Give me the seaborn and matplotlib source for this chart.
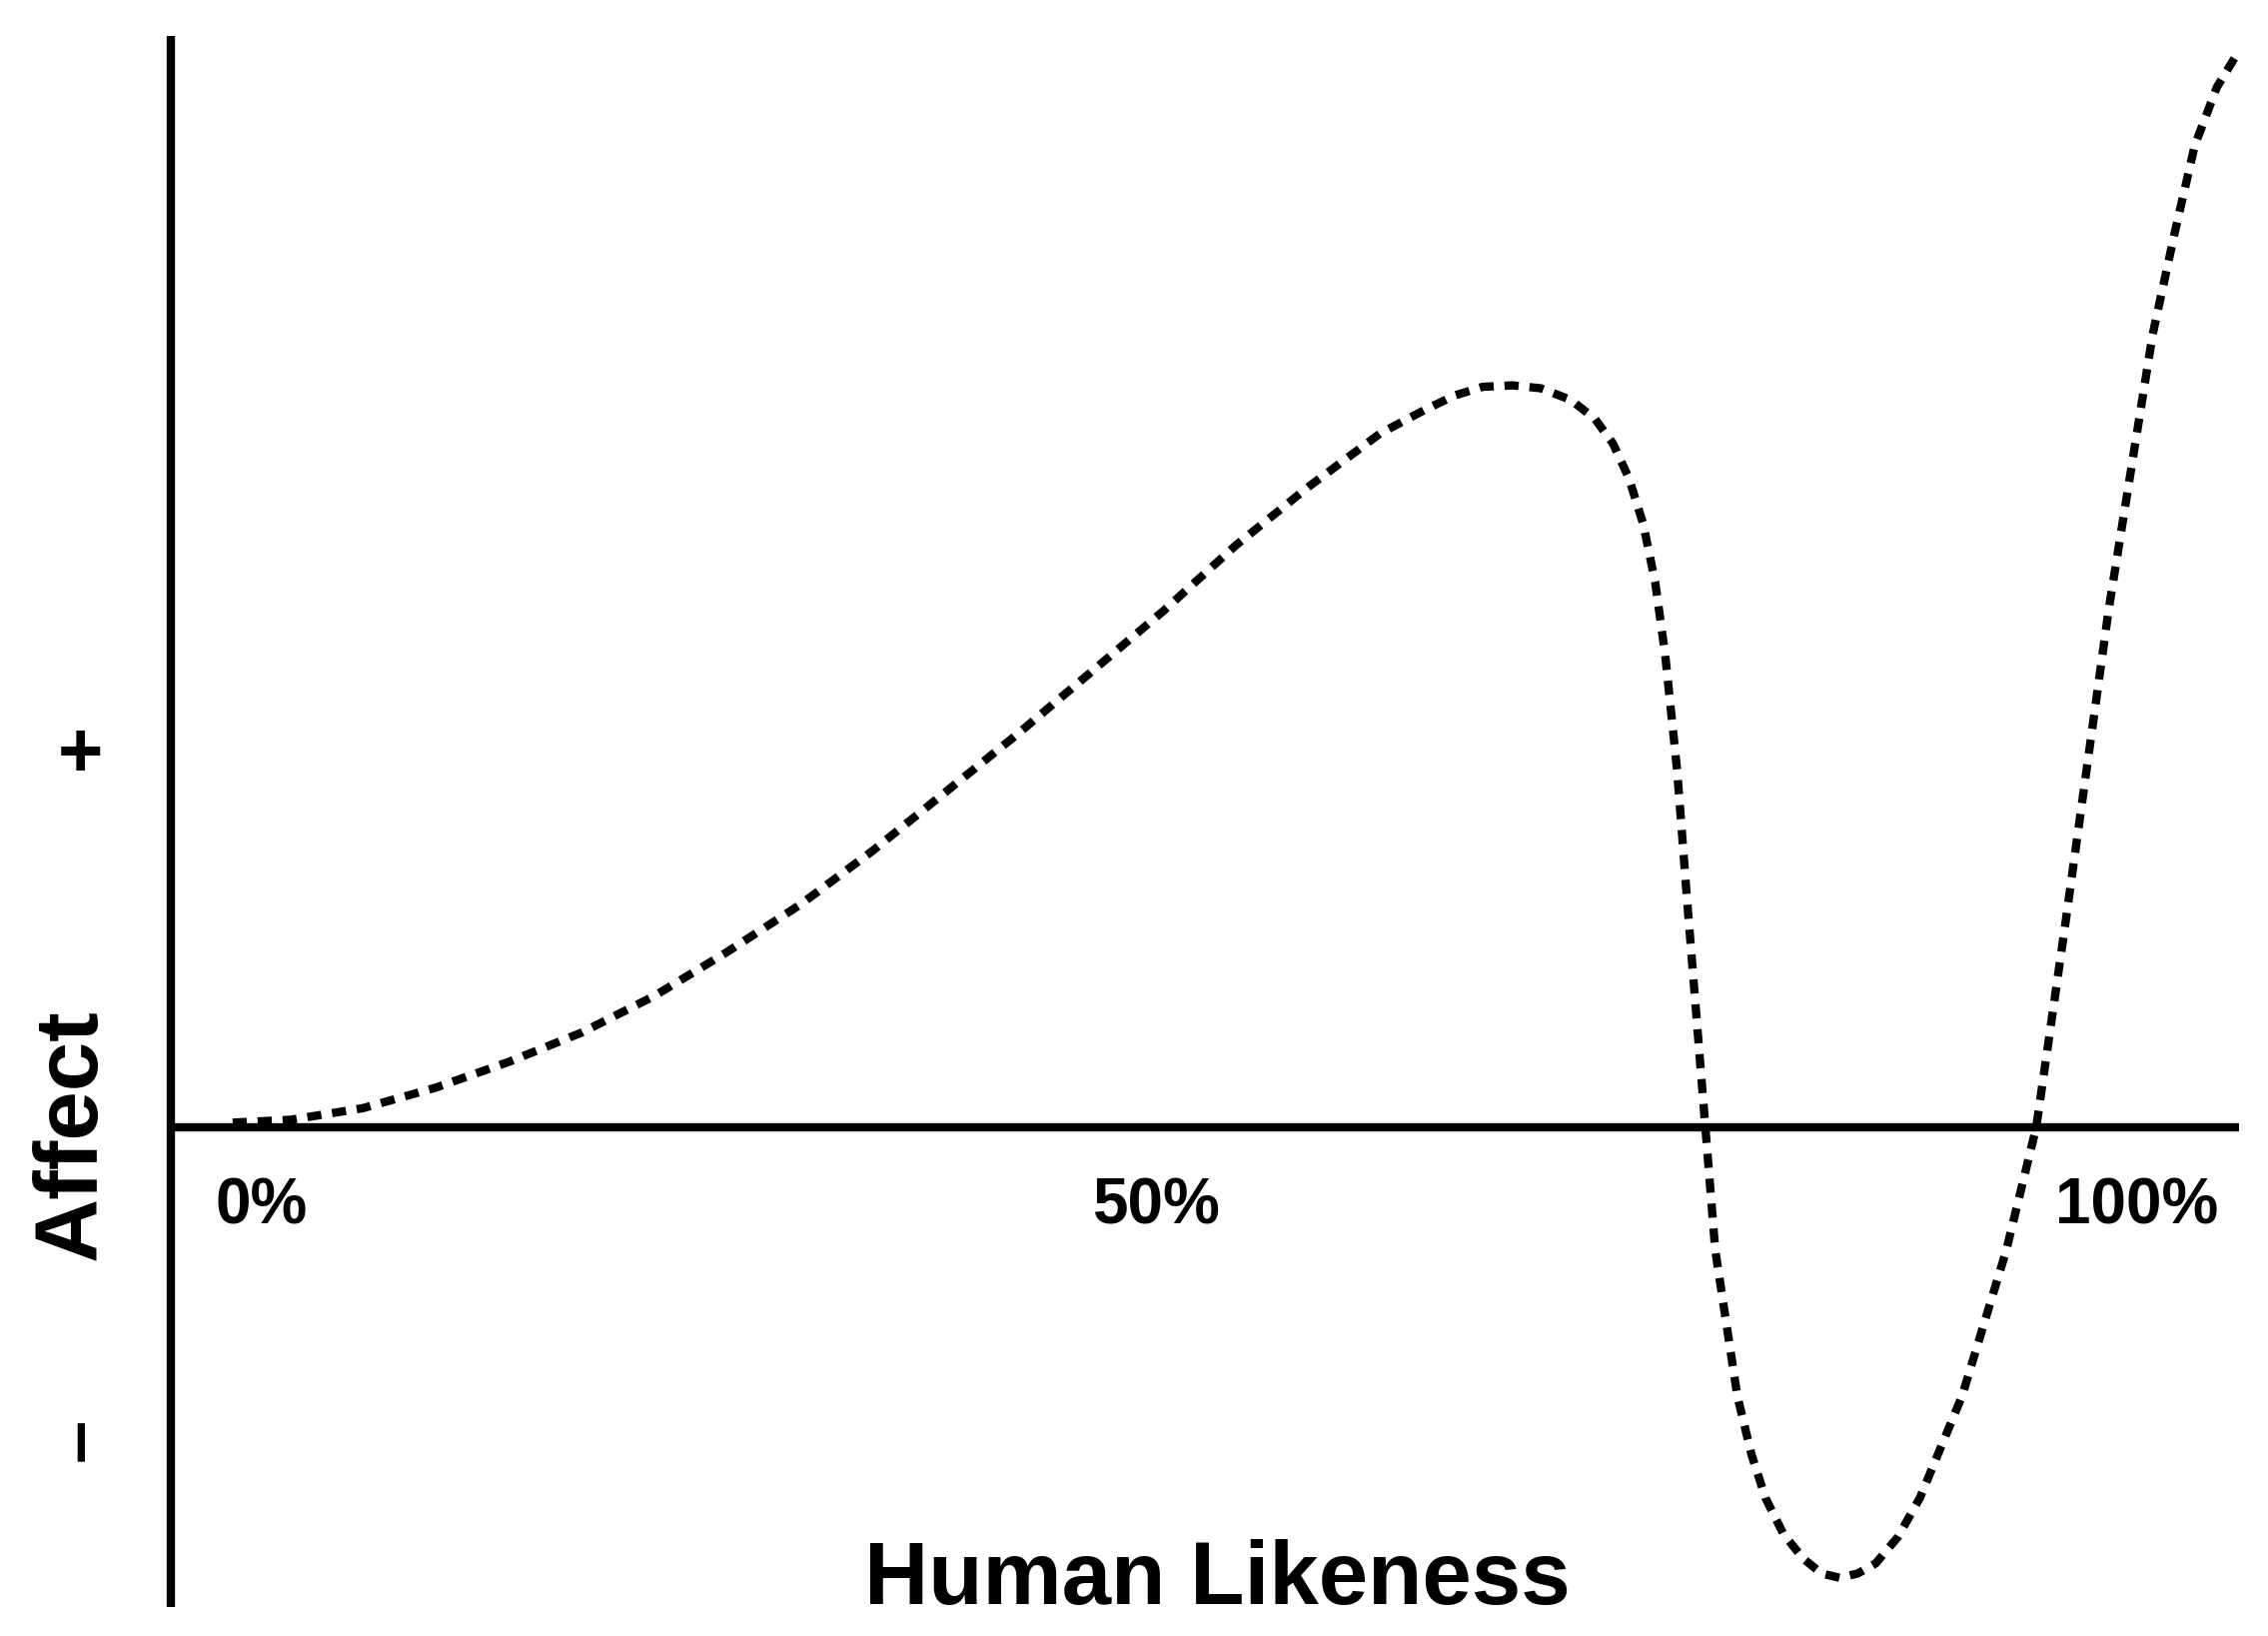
import numpy as np
import pandas as pd
import matplotlib
matplotlib.use('Agg')
import matplotlib.pyplot as plt
import seaborn as sns

sns.set_style('white')
plt.rcParams['font.family'] = ['Liberation Sans', 'DejaVu Sans']
plt.rcParams['text.color'] = 'black'

likeness = [0, 2.9, 6.5, 10.1, 13.8, 17.4, 21.0, 24.6, 28.3, 31.9, 35.5, 39.1, 42.8, 46.4,
            50.0, 53.6, 57.2, 59.4, 60.9, 62.3, 63.8, 65.2, 66.7, 67.9, 68.8, 69.6, 70.3,
            70.9, 71.4, 72.0, 72.5, 73.2, 73.9, 75.0, 75.7, 76.4, 77.3, 78.3, 79.2, 80.1,
            81.0, 81.9, 83.0, 84.1, 86.2, 88.4, 89.9, 91.3, 93.5, 95.7, 96.8, 97.8, 98.9, 100]
affect = [3, 5, 13, 27, 45, 65, 90, 120, 153, 190, 230, 270, 313, 355,
          400, 440, 477, 493, 503, 509, 510, 508, 500, 487, 470, 446, 415,
          375, 325, 245, 155, 35, -85, -185, -225, -255, -280, -297, -307, -310,
          -307, -300, -282, -255, -185, -85, 0, 135, 355, 545, 615, 675, 715, 740]
tick_pos = [1.45, 46, 94.9]
tick_labels = ['0%', '50%', '100%']

df = pd.DataFrame({'likeness': likeness, 'affect': affect})

fig = plt.figure(figsize=(22.7, 16.37), dpi=100)
ax = fig.add_axes([0, 0, 1, 1])
ax.set_xlim(-11.6, 101.45)
ax.set_ylim(-350, 775)
ax.axis('off')

sns.lineplot(data=df, x='likeness', y='affect', sort=False, ax=ax, color='black',
             linewidth=6, linestyle=(0, (1.7, 1.3)))

ax.plot([-3.1, -3.1], [750, -330], color='black', lw=6, solid_capstyle='butt')
ax.plot([-3.1, 100], [0, 0], color='black', lw=6, solid_capstyle='butt')

for p, t in zip(tick_pos, tick_labels):
    ax.text(p, -55, t, ha='center', va='center', fontsize=46, fontweight='bold')
ax.text(49.1, -312, 'Human Likeness', ha='center', va='center', fontsize=64, fontweight='bold')
ax.text(-8, -5, 'Affect', ha='center', va='center', rotation=90, fontsize=64, fontweight='bold')
ax.text(-7.6, 255, '+', ha='center', va='center', fontsize=56, fontweight='bold')
ax.text(-7.6, -215, '–', ha='center', va='center', fontsize=56, fontweight='bold', rotation=90)

fig.savefig('out.png', dpi=100)
